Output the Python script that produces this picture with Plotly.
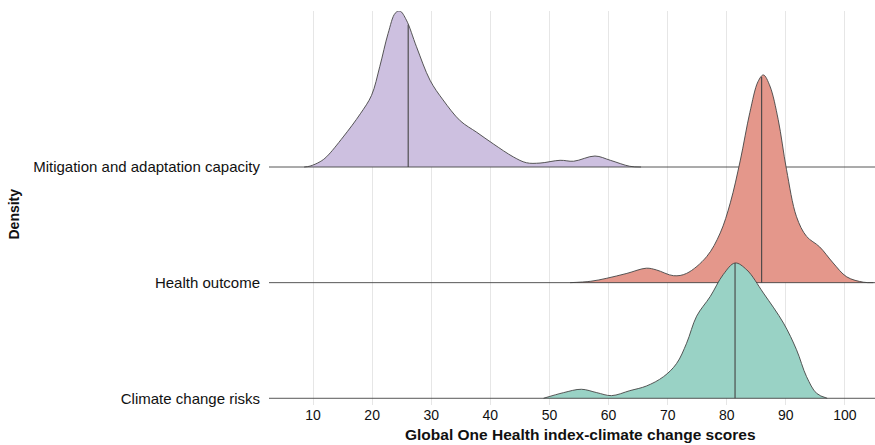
import numpy as np
import plotly.graph_objects as go

# Ridge categories, drawn from top to bottom
categories = ["Mitigation and adaptation capacity", "Health outcome", "Climate change risks"]

# Density profiles (score, relative density height in ridge units)
mitigation_x = [8.5, 9.5, 11.2, 12.3, 15.1, 18.0, 19.9, 21.3, 22.7, 23.9, 24.7, 25.8, 27.5,
                29.8, 32.0, 34.9, 37.7, 40.5, 43.9, 46.1, 48.4, 51.8, 54.1, 57.7, 60.3, 63.6, 65.5]
mitigation_d = [0.0, 0.008, 0.046, 0.089, 0.26, 0.46, 0.62, 0.87, 1.155, 1.33, 1.349, 1.27, 1.04,
                0.75, 0.58, 0.40, 0.30, 0.20, 0.087, 0.037, 0.034, 0.058, 0.05, 0.095, 0.058, 0.006, 0.0]

health_x = [53.5, 57.0, 59.7, 63.1, 66.4, 68.1, 71.0, 73.2, 76.6, 78.9, 80.6, 82.3, 83.9, 85.3,
            86.2, 87.3, 88.7, 90.1, 91.8, 93.5, 95.7, 98.0, 100.3, 103.1, 104.8]
health_d = [0.0, 0.012, 0.038, 0.08, 0.125, 0.11, 0.06, 0.08, 0.225, 0.43, 0.69, 1.06, 1.47, 1.74,
            1.796, 1.70, 1.41, 0.98, 0.57, 0.40, 0.31, 0.17, 0.05, 0.004, 0.0]

climate_x = [49.0, 52.4, 55.4, 58.0, 60.5, 63.6, 66.4, 69.3, 71.5, 73.2, 74.9, 77.2, 79.4, 81.4,
             83.4, 86.2, 89.6, 91.8, 93.5, 95.2, 97.0]
climate_d = [0.0, 0.049, 0.078, 0.049, 0.023, 0.066, 0.106, 0.187, 0.30, 0.476, 0.71, 0.88, 1.07,
             1.17, 1.11, 0.91, 0.65, 0.42, 0.187, 0.043, 0.0]

# Median scores
medians = [26.1, 85.9, 81.4]

# Axis ticks
x_ticks = [10, 20, 30, 40, 50, 60, 70, 80, 90, 100]

fills = ["#cdc0e0", "#e4978b", "#99d2c5"]
outline = "#444444"
x_range = [2.55, 105.08]

profiles = [(mitigation_x, mitigation_d), (health_x, health_d), (climate_x, climate_d)]
baselines = [2, 1, 0]

fig = go.Figure()
for (xs, ds), base, med, fc in zip(profiles, baselines, medians, fills):
    xs = np.array(xs)
    ys = base + np.array(ds)
    # baseline running across the whole panel
    fig.add_trace(go.Scatter(x=x_range, y=[base, base], mode="lines",
                             line=dict(color=outline, width=0.9), hoverinfo="skip"))
    # density ridge filled down to its baseline
    fig.add_trace(go.Scatter(x=xs, y=ys, mode="lines", fill="tonexty", fillcolor=fc,
                             line=dict(color=outline, width=0.9, shape="spline", smoothing=1.0),
                             hoverinfo="skip"))
    # median marker
    top = base + float(np.interp(med, xs, ds))
    fig.add_trace(go.Scatter(x=[med, med], y=[base, top], mode="lines",
                             line=dict(color=outline, width=1.1), hoverinfo="skip"))

font_family = "Liberation Sans, Arial, Helvetica, sans-serif"

fig.update_layout(
    width=875, height=445,
    margin=dict(l=269, r=0, t=11, b=40),
    paper_bgcolor="white", plot_bgcolor="white",
    showlegend=False,
    font=dict(family=font_family, color="#111111"),
    xaxis=dict(range=x_range, tickvals=x_ticks, ticktext=[str(t) for t in x_ticks],
               showgrid=True, gridcolor="#e6e6e6", gridwidth=1, zeroline=False,
               showline=False, ticks="", tickfont=dict(size=14, color="#111111")),
    yaxis=dict(range=[-0.058, 3.349], tickvals=baselines, ticktext=categories,
               showgrid=False, zeroline=False, showline=False, ticks="",
               ticklabelstandoff=8, tickfont=dict(size=15, color="#111111")),
    annotations=[
        dict(text="<b>Global One Health index-climate change scores</b>", xref="paper", yref="paper",
             x=(580 - 269) / 606, y=-(434 - 405) / 394, xanchor="center", yanchor="middle",
             showarrow=False, font=dict(size=15.5, color="#111111")),
        dict(text="<b>Density</b>", xref="paper", yref="paper",
             x=(13.5 - 269) / 606, y=(405 - 214) / 394, xanchor="center", yanchor="middle",
             textangle=-90, showarrow=False, font=dict(size=14, color="#111111")),
    ],
)

fig.write_html("out.html")
